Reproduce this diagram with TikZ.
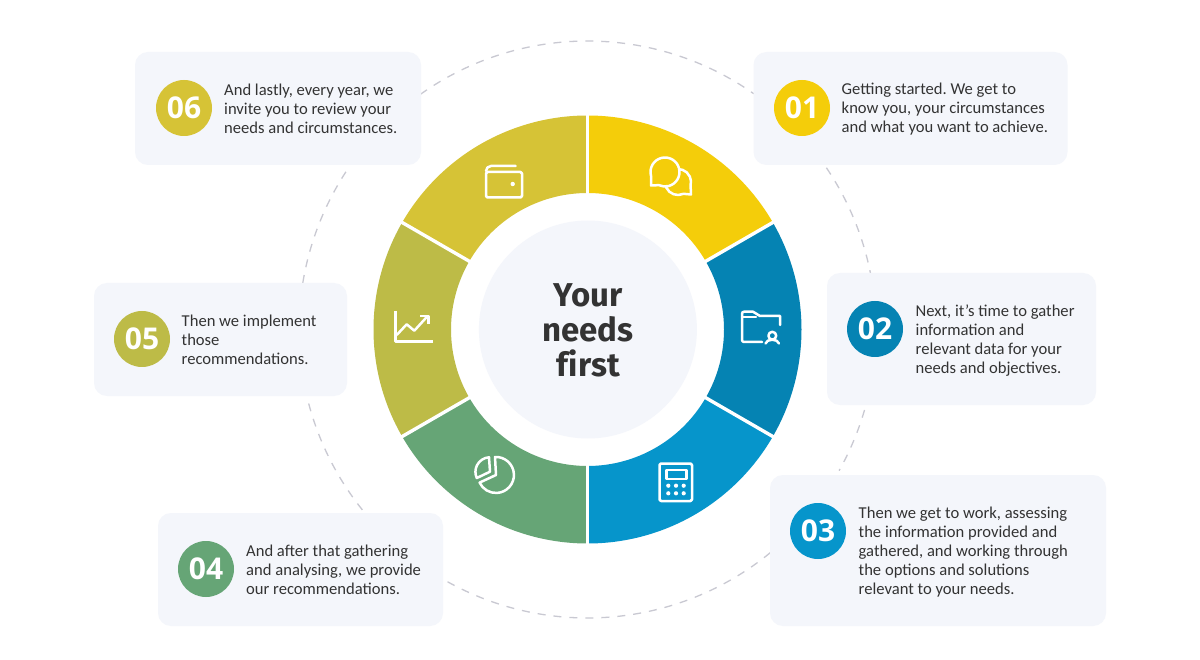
\documentclass[tikz,border=0pt]{standalone}
\usepackage{fontspec}
\usetikzlibrary{calc}
\setmainfont{Carlito}
\newfontfamily\numfont{Open Sans}
\newfontfamily\headfont{Fira Sans}
\definecolor{cyel}{HTML}{F4CD0A}
\definecolor{cblu}{HTML}{0583B3}
\definecolor{clbl}{HTML}{0695CB}
\definecolor{cgrn}{HTML}{66A576}
\definecolor{coli}{HTML}{BDBB47}
\definecolor{cmus}{HTML}{D6C336}
\definecolor{cardbg}{HTML}{F4F6FB}
\definecolor{inkc}{HTML}{333333}
\definecolor{dashc}{HTML}{C9C9D2}
\tikzset{
  x=1pt,y=1pt,
  cardbox/.style={fill=cardbg,rounded corners=13pt,inner sep=0pt,outer sep=0pt},
  numdot/.style={circle,inner sep=0pt,minimum size=56pt,text=white,font=\numfont\bfseries\fontsize{30}{30}\selectfont},
  bodytxt/.style={anchor=west,align=left,inner sep=0pt,text=inkc,font=\frenchspacing\fontsize{16.6}{19}\selectfont},
  ringdash/.style={draw=dashc,line width=1.3pt,dash pattern=on 8pt off 8pt},
  spoke/.style={draw=white,line width=3.4pt},
  icon/.style={draw=white,line width=2.5pt,line join=round,line cap=round},
}
\newcommand{\sector}[3]{\fill[#3] (c) ++(#1:214) arc[start angle=#1,end angle=#2,radius=214] -- ($(c)+(#2:136.5)$) arc[start angle=#2,end angle=#1,radius=136.5] -- cycle;}
\newcommand{\dasharc}[2]{\draw[ringdash] (c) ++(#1:288.5) arc[start angle=#1,end angle=#2,radius=288.5];}
\begin{document}
\begin{tikzpicture}
\useasboundingbox (0,0) rectangle (1200,-660);
\fill[white] (0,0) rectangle (1200,-660);
\coordinate (c) at (587.5,-329.5);
% dashed ring
\dasharc{125.4}{54.8}
\dasharc{34.1}{11.3}
\dasharc{-16.2}{-29.3}
\dasharc{-50.7}{-119.3}
\dasharc{-141.3}{-166.6}
\dasharc{170.7}{146.4}
% ring
\sector{90}{30}{cyel}
\sector{30}{-30}{cblu}
\sector{-30}{-90}{clbl}
\sector{-90}{-150}{cgrn}
\sector{-150}{-210}{coli}
\sector{150}{90}{cmus}
\foreach \a in {90,30,-30,-90,-150,150}{
  \draw[spoke] ($(c)+(\a:130)$) -- ($(c)+(\a:220)$);
}
\node[circle,fill=cardbg,minimum size=218pt,inner sep=0pt] (hub) at (587.9,-329.5) {};
\node[align=center,inner sep=0pt,text=inkc,font=\headfont\bfseries\fontsize{33}{35}\selectfont] (title) at (588,-330.5) {Your\\needs\\f\kern1pt irst};
% cards
\node[cardbox,minimum width=314pt,minimum height=113pt] (card1) at (910.5,-108.5) {};
\node[cardbox,minimum width=269pt,minimum height=132pt] (card2) at (961.5,-339) {};
\node[cardbox,minimum width=336pt,minimum height=151pt] (card3) at (938,-550.5) {};
\node[cardbox,minimum width=285pt,minimum height=113pt] (card4) at (300.5,-569.5) {};
\node[cardbox,minimum width=253pt,minimum height=113pt] (card5) at (220.5,-339.5) {};
\node[cardbox,minimum width=286pt,minimum height=113pt] (card6) at (278,-108.5) {};
% number discs
\node[numdot,fill=cyel] (n1) at (802,-108) {01};
\node[numdot,fill=cblu] (n2) at (875,-329) {02};
\node[numdot,fill=clbl] (n3) at (818,-531) {03};
\node[numdot,fill=cgrn] (n4) at (206,-569) {04};
\node[numdot,fill=coli] (n5) at (142,-339) {05};
\node[numdot,fill=cmus] (n6) at (184,-108) {06};
% texts
\node[bodytxt] (t1) at (841.5,-109.5) {Getting started. We get to\\know you, your circumstances\\and what you want to achieve.};
\node[bodytxt] (t2) at (915.5,-340.5) {Next, it’s time to gather\\information and\\relevant data for your\\needs and objectives.};
\node[bodytxt] (t3) at (858.5,-552) {Then we get to work, assessing\\the information provided and\\gathered, and working through\\the options and solutions\\relevant to your needs.};
\node[bodytxt] (t4) at (246,-570) {And after that gathering\\and analysing, we provide\\our recommendations.};
\node[bodytxt] (t5) at (181.5,-339.5) {Then we implement\\those\\recommendations.};
\node[bodytxt] (t6) at (224,-109) {And lastly, every year, we\\invite you to review your\\needs and circumstances.};
% chat icon
\draw[icon,fill=cyel] (678,-182) ++(-15:13) -- (691,-194.5) -- (683.5,-193.8) arc[start angle=-65,end angle=-375,radius=13];
\draw[icon,fill=cyel] (665,-172) ++(195:14.5) arc[start angle=195,end angle=-115,radius=14.5] -- (651,-185.5) -- cycle;
% folder icon
\draw[icon] (780,-325) -- (780,-316) -- (760,-316) -- (753,-311.7) -- (744,-311.7) arc[start angle=90,end angle=180,radius=2] -- (742,-340) arc[start angle=180,end angle=270,radius=2] -- (762,-342);
\draw[icon] (742,-317) -- (756,-317);
\draw[icon] (772.3,-335.7) circle[radius=3.9];
\draw[icon] (765.5,-343.5) .. controls (766.5,-338.5) and (778,-338.5) .. (779,-343.5);
% calculator icon
\draw[icon,rounded corners=1.5pt] (659.5,-463.5) rectangle (692,-501);
\draw[icon] (666.5,-470) rectangle (686.5,-479);
\foreach \px in {668.3,676,683.7}{\foreach \py in {-485.7,-493.3}{\fill[white] (\px,\py) circle[radius=2.1];}}
% pie icon
\draw[icon] (496,-475) -- (495,-457) arc[start angle=93,end angle=-155,radius=18] -- cycle;
\draw[icon] (490,-471.7) -- (489,-457.3) arc[start angle=94,end angle=205,radius=14.6] -- cycle;
% chart icon
\draw[icon,line cap=butt] (395.7,-311) -- (395.7,-341.7) -- (432.7,-341.7);
\draw[icon,line cap=butt] (396.7,-335) -- (406.7,-324.3) -- (414.3,-330.7) -- (427.7,-316);
\draw[icon,line cap=butt] (420,-316) -- (428.3,-316) -- (428.3,-324.3);
% wallet icon
\draw[icon,rounded corners=1.5pt] (486,-172) rectangle (522,-197.5);
\draw[icon] (486,-171) arc[start angle=180,end angle=90,radius=5] -- (515.5,-166);
\fill[white] (512.7,-184) circle[radius=2.2];
\end{tikzpicture}
\end{document}
